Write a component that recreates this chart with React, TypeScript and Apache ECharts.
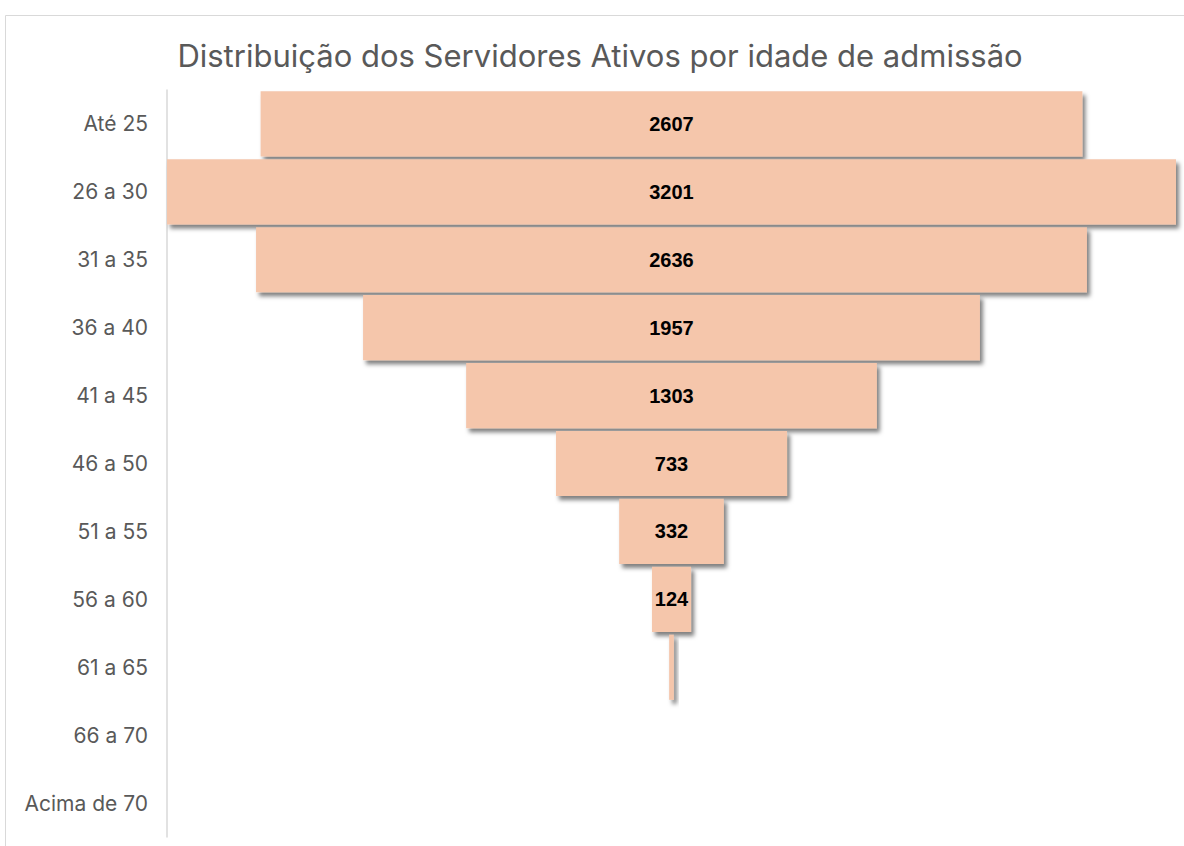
import React, { useEffect, useRef } from "react";
import * as echarts from "echarts";

const categories = ["Até 25", "26 a 30", "31 a 35", "36 a 40", "41 a 45", "46 a 50", "51 a 55", "56 a 60", "61 a 65", "66 a 70", "Acima de 70"];
const values = [2607, 3201, 2636, 1957, 1303, 733, 332, 124, 15, 0, 0];
const title = "Distribuição dos Servidores Ativos por idade de admissão";

export default function App() {
  const ref = useRef<HTMLDivElement>(null);
  useEffect(() => {
    const chart = echarts.init(ref.current!, null, { renderer: "svg" });
    const maxV = Math.max(...values);
    const offsets = values.map((v) => (maxV - v) / 2);
    chart.setOption({
      animation: false,
      title: {
        text: title,
        left: 595,
        textAlign: "center",
        top: 35,
        textStyle: { fontFamily: "Inter, Noto Sans, sans-serif", fontSize: 31, fontWeight: "normal", color: "#595959" },
      },
      graphic: [
        {
          type: "rect",
          shape: { x: 5.5, y: 15.5, width: 1300, height: 1000 },
          style: { fill: "none", stroke: "#d9d9d9", lineWidth: 1 },
          silent: true,
          z: -10,
        },
      ],
      grid: { left: 167, right: 8, top: 90, bottom: 9, containLabel: false },
      xAxis: { type: "value", min: 0, max: maxV, show: false },
      yAxis: {
        type: "category",
        data: categories,
        inverse: true,
        axisLine: { show: true, lineStyle: { color: "#d9d9d9", width: 1.5 } },
        axisTick: { show: false },
        axisLabel: { color: "#595959", fontSize: 21, fontFamily: "Inter, Noto Sans, sans-serif", margin: 19 },
      },
      series: [
        {
          type: "bar",
          stack: "f",
          data: offsets,
          itemStyle: { color: "transparent" },
          silent: true,
          barCategoryGap: "4%",
        },
        {
          type: "bar",
          stack: "f",
          data: values,
          barCategoryGap: "4%",
          itemStyle: {
            color: "#F5C6AB",
            shadowColor: "rgba(0,0,0,0.5)",
            shadowBlur: 4,
            shadowOffsetX: 3,
            shadowOffsetY: 4,
          },
          label: {
            show: true,
            position: "inside",
            color: "#000",
            fontWeight: "bold",
            fontSize: 20,
            fontFamily: "Liberation Sans, Arial, sans-serif",
            formatter: (p: any) => (p.value >= 50 ? String(p.value) : ""),
          },
        },
      ],
    });
    return () => chart.dispose();
  }, []);
  return <div ref={ref} style={{ position: "fixed", left: 0, top: 0, width: 1184, height: 846, background: "#fff" }} />;
}
